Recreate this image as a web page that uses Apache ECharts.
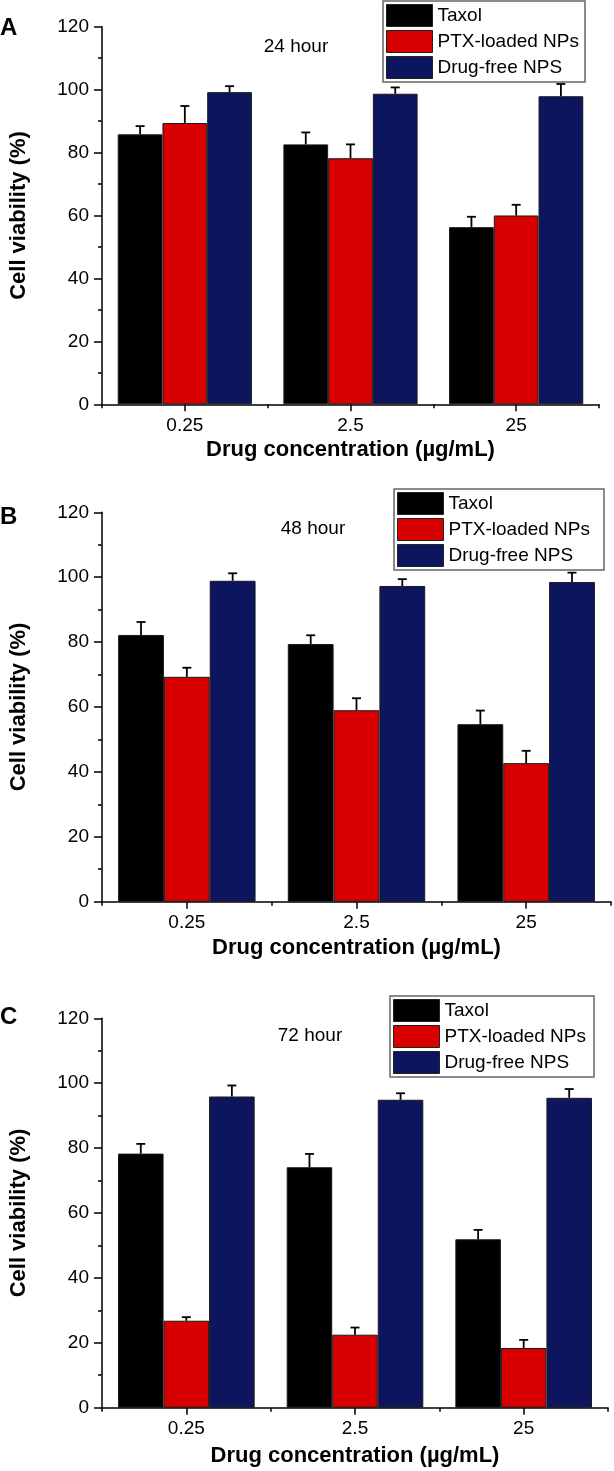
<!DOCTYPE html>
<html>
<head>
<meta charset="utf-8">
<script src="https://cdn.jsdelivr.net/npm/echarts@6/dist/echarts.min.js"></script>
<style>
html,body{margin:0;padding:0;background:#fff;}
#chart{width:614px;height:1471px;}
</style>
</head>
<body>
<div id="chart"></div>
<script>
// ---- data ----
const categories = ['0.25', '2.5', '25'];
const seriesNames = ['Taxol', 'PTX-loaded NPs', 'Drug-free NPS'];
const panelLabels = ['A', 'B', 'C'];
const timeLabels = ['24 hour', '48 hour', '72 hour'];
const yTicks = [0, 20, 40, 60, 80, 100, 120];

// 24 hour
const taxol24 = [85.8, 82.6, 56.3];
const taxol24Err = [2.6, 3.8, 3.3];
const ptx24 = [89.4, 78.2, 60.0];
const ptx24Err = [5.4, 4.4, 3.4];
const free24 = [99.2, 98.7, 97.9];
const free24Err = [1.9, 2.0, 3.9];
// 48 hour
const taxol48 = [82.2, 79.4, 54.7];
const taxol48Err = [4.0, 2.7, 4.2];
const ptx48 = [69.3, 59.0, 42.7];
const ptx48Err = [2.8, 3.7, 3.8];
const free48 = [98.9, 97.3, 98.5];
const free48Err = [2.3, 2.1, 2.9];
// 72 hour
const taxol72 = [78.3, 74.1, 51.9];
const taxol72Err = [3.0, 4.1, 2.9];
const ptx72 = [26.8, 22.5, 18.4];
const ptx72Err = [1.1, 2.2, 2.5];
const free72 = [95.9, 94.9, 95.5];
const free72Err = [3.4, 2.0, 2.7];

const panelValues = [[taxol24, ptx24, free24], [taxol48, ptx48, free48], [taxol72, ptx72, free72]];
const panelErrors = [[taxol24Err, ptx24Err, free24Err], [taxol48Err, ptx48Err, free48Err], [taxol72Err, ptx72Err, free72Err]];

// ---- styles / layout ----
const colors = ['#000000', '#d80000', '#0c155e'];
const FONT = '"Liberation Sans", Arial, Helvetica, sans-serif';
const CAT_GAP = 0.19;
const grids = [
  {left: 92, top: 26.7, width: 507, height: 377.6},
  {left: 91, top: 512.3, width: 520, height: 389.4},
  {left: 88, top: 1018.3, width: 520, height: 389.4}
];
const legendPos = [{left: 383, top: 1, pr: 6}, {left: 394, top: 489, pr: 14}, {left: 390, top: 996, pr: 8}];
const xNameGap = [35, 35, 37];
const labelPos = [{x: 0, y: 16}, {x: 0, y: 505}, {x: 0, y: 1005}];
const timePos = [{x: 296, y: 47}, {x: 313, y: 529}, {x: 310, y: 1036}];

const option = {
  animation: false,
  backgroundColor: '#fff',
  textStyle: {fontFamily: FONT},
  grid: [],
  xAxis: [],
  yAxis: [],
  legend: [],
  series: [],
  graphic: []
};

for (let p = 0; p < 3; p++) {
  option.grid.push(Object.assign({containLabel: false}, grids[p]));
  // main x axis with center ticks & labels
  option.xAxis.push({
    type: 'category', gridIndex: p, data: categories, boundaryGap: true,
    axisLine: {show: true, lineStyle: {color: '#000', width: 1.5}},
    axisTick: {show: true, alignWithLabel: true, length: 7, lineStyle: {color: '#000', width: 1.5}},
    axisLabel: {color: '#000', fontSize: 19, margin: 12, fontFamily: FONT},
    name: 'Drug concentration (\u00b5g/mL)', nameLocation: 'middle', nameGap: xNameGap[p],
    nameTextStyle: {color: '#000', fontSize: 22, fontWeight: 'bold', fontFamily: FONT},
    splitLine: {show: false}
  });
  // secondary x axis with boundary ticks
  option.xAxis.push({
    type: 'category', gridIndex: p, data: categories, boundaryGap: true, position: 'bottom',
    axisLine: {show: false},
    axisTick: {show: true, alignWithLabel: false, length: 4, lineStyle: {color: '#000', width: 1.5}},
    axisLabel: {show: false}, splitLine: {show: false}
  });
  option.yAxis.push({
    type: 'value', gridIndex: p, min: yTicks[0], max: yTicks[yTicks.length - 1], interval: 20,
    axisLine: {show: true, lineStyle: {color: '#000', width: 1.5}},
    axisTick: {show: true, length: 8, lineStyle: {color: '#000', width: 1.5}},
    minorTick: {show: true, splitNumber: 2, length: 4, lineStyle: {color: '#000', width: 1.5}},
    axisLabel: {color: '#000', fontSize: 19, margin: 13, fontFamily: FONT},
    splitLine: {show: false},
    name: 'Cell viability (%)', nameLocation: 'middle', nameGap: 72,
    nameTextStyle: {color: '#000', fontSize: 22, fontWeight: 'bold', fontFamily: FONT}
  });
  option.legend.push({
    left: legendPos[p].left, top: legendPos[p].top, orient: 'vertical',
    data: seriesNames, icon: 'rect', itemWidth: 46, itemHeight: 22, itemGap: 3,
    padding: [3, legendPos[p].pr, 3, 3], backgroundColor: '#fff', borderColor: '#666', borderWidth: 1.5,
    borderRadius: 0, selectedMode: false,
    itemStyle: {borderColor: '#222', borderWidth: 1},
    textStyle: {color: '#000', fontSize: 19, fontFamily: FONT}
  });
  for (let k = 0; k < 3; k++) {
    option.series.push({
      type: 'bar', name: seriesNames[k], xAxisIndex: p * 2, yAxisIndex: p,
      data: panelValues[p][k], barGap: '0%', barCategoryGap: (CAT_GAP * 100) + '%',
      itemStyle: {color: colors[k], borderColor: '#1a1a1a', borderWidth: 1},
      z: 2
    });
  }
  const errData = [];
  for (let k = 0; k < 3; k++) {
    for (let i = 0; i < categories.length; i++) {
      errData.push([i, panelValues[p][k][i], panelErrors[p][k][i], k]);
    }
  }
  option.series.push({
    type: 'custom', xAxisIndex: p * 2, yAxisIndex: p, data: errData, z: 5,
    encode: {x: 0, y: 1},
    renderItem: function (params, api) {
      const cat = api.value(0), val = api.value(1), err = api.value(2), k = api.value(3);
      const band = api.size([1, 0])[0];
      const bw = band * (1 - CAT_GAP) / 3;
      const c0 = api.coord([cat, val]);
      const c1 = api.coord([cat, val + err]);
      const x = c0[0] + (k - 1) * bw;
      const style = {stroke: '#000', lineWidth: 1.8};
      return {
        type: 'group',
        children: [
          {type: 'line', shape: {x1: x, y1: c0[1], x2: x, y2: c1[1]}, style: style},
          {type: 'line', shape: {x1: x - 4.5, y1: c1[1], x2: x + 4.5, y2: c1[1]}, style: style}
        ]
      };
    }
  });
  option.graphic.push({
    type: 'text', left: labelPos[p].x, top: labelPos[p].y,
    style: {text: panelLabels[p], fill: '#000', font: 'bold 24px ' + FONT}
  });
  option.graphic.push({
    type: 'text', x: timePos[p].x, y: timePos[p].y,
    style: {text: timeLabels[p], fill: '#000', font: '19px ' + FONT, textAlign: 'center', textVerticalAlign: 'middle'}
  });
}

const chart = echarts.init(document.getElementById('chart'), null, {renderer: 'canvas'});
chart.setOption(option);
</script>
</body>
</html>
